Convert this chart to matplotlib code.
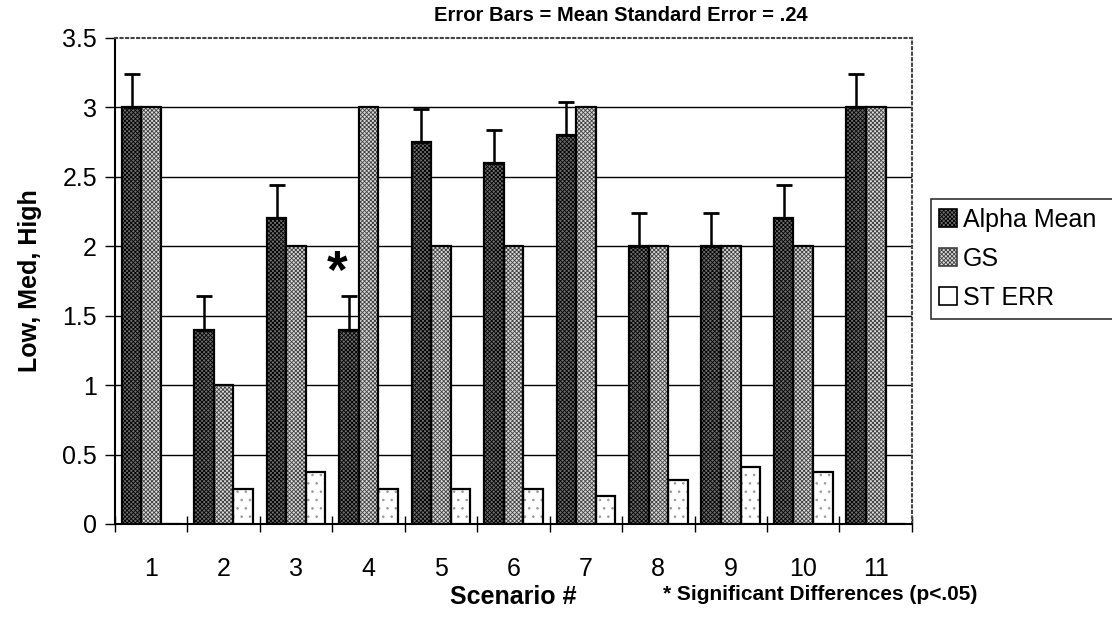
import numpy as np
import matplotlib
matplotlib.use('Agg')
import matplotlib.pyplot as plt
from matplotlib.patches import Patch

plt.rcParams['font.family'] = ['Liberation Sans', 'DejaVu Sans']
plt.rcParams['hatch.linewidth'] = 0.6

# data
scenarios = ['1', '2', '3', '4', '5', '6', '7', '8', '9', '10', '11']
alpha_mean = [3, 1.4, 2.2, 1.4, 2.75, 2.6, 2.8, 2, 2, 2.2, 3]
gs = [3, 1, 2, 3, 2, 2, 3, 2, 2, 2, 3]
st_err = [0, 0.25, 0.375, 0.25, 0.25, 0.25, 0.2, 0.32, 0.41, 0.375, 0]
mean_se = 0.24
sig_scenario = 4   # the one with the star
yticks = [0, 0.5, 1, 1.5, 2, 2.5, 3, 3.5]
ytick_labels = ['0', '0.5', '1', '1.5', '2', '2.5', '3', '3.5']

fig = plt.figure(figsize=(11.12, 6.31), dpi=100)
ax = fig.add_axes([0.1034, 0.1696, 0.7167, 0.7702])

x = np.arange(len(scenarios))
w = 0.27

# patterns: fill first, then black outlines on top
alpha_style = dict(facecolor='#6e6e6e', edgecolor='black', hatch='xxxxxxxx')
gs_style = dict(facecolor='#dadada', edgecolor='#404040', hatch='xxxxxxxx')
ax.bar(x - w, alpha_mean, w, lw=0, zorder=3, **alpha_style)
ax.bar(x, gs, w, lw=0, zorder=3, **gs_style)
ax.bar(x + w, st_err, w, facecolor='white', edgecolor='#999999', hatch='..', lw=0, zorder=3)
for off, vals in [(-w, alpha_mean), (0, gs), (w, st_err)]:
    ax.bar(x + off, vals, w, fill=False, edgecolor='black', lw=1.6, zorder=4)

# plus-only error bars on the alpha mean
ax.errorbar(x - w, alpha_mean, yerr=[np.zeros(len(x)), np.full(len(x), mean_se)],
            fmt='none', ecolor='black', elinewidth=1.8, capsize=6, capthick=2, zorder=5)

ax.text(sig_scenario - 1 - 0.44, 1.80, '*', fontsize=38, fontweight='bold',
        ha='center', va='center', zorder=6)

ax.set_xlim(-0.5, len(x) - 0.5)
ax.set_ylim(0, 3.5)
ax.set_yticks(yticks)
ax.set_yticklabels(ytick_labels, fontsize=18)
ax.set_xticks(x)
ax.set_xticklabels(scenarios, fontsize=18)
ax.set_xticks(np.arange(-0.5, len(x), 1), minor=True)
ax.tick_params(axis='x', which='major', length=0, pad=24)
ax.tick_params(axis='x', which='minor', direction='inout', length=12, width=1)
ax.tick_params(axis='y', direction='out', length=7, width=1, pad=6)

ax.set_axisbelow(True)
ax.yaxis.grid(True, color='black', lw=1)
ax.get_ygridlines()[-1].set_visible(False)

for s in ['top', 'right']:
    ax.spines[s].set_linestyle(':')
    ax.spines[s].set_color('#444444')
    ax.spines[s].set_linewidth(1.5)
ax.spines['left'].set_linewidth(1.5)
ax.spines['bottom'].set_linewidth(1.5)

ax.set_ylabel('Low, Med, High', fontsize=18, fontweight='bold')
ax.yaxis.set_label_coords(-0.092, 0.5)
ax.set_xlabel('Scenario #', fontsize=18, fontweight='bold')
ax.xaxis.set_label_coords(0.5, -0.125)

fig.text(0.558, 0.975, 'Error Bars = Mean Standard Error = .24', fontsize=14.5,
         fontweight='bold', ha='center', va='center')
fig.text(0.596, 0.058, '* Significant Differences (p<.05)', fontsize=15,
         fontweight='bold', ha='left', va='center')

handles = [Patch(lw=1.2, **alpha_style),
           Patch(lw=1.2, **gs_style),
           Patch(facecolor='white', edgecolor='black', lw=1.2)]
leg = fig.legend(handles, ['Alpha Mean', 'GS', 'ST ERR'], loc='upper left',
                 bbox_to_anchor=(0.837, 0.5846, 0.2, 0.1), mode='expand', fontsize=18,
                 frameon=True, fancybox=False, edgecolor='black',
                 handlelength=0.7, handleheight=0.7, handletextpad=0.25,
                 labelspacing=0.6, borderpad=0.35, borderaxespad=0)
leg.get_frame().set_linewidth(1.2)

fig.savefig('out.png', dpi=100)
